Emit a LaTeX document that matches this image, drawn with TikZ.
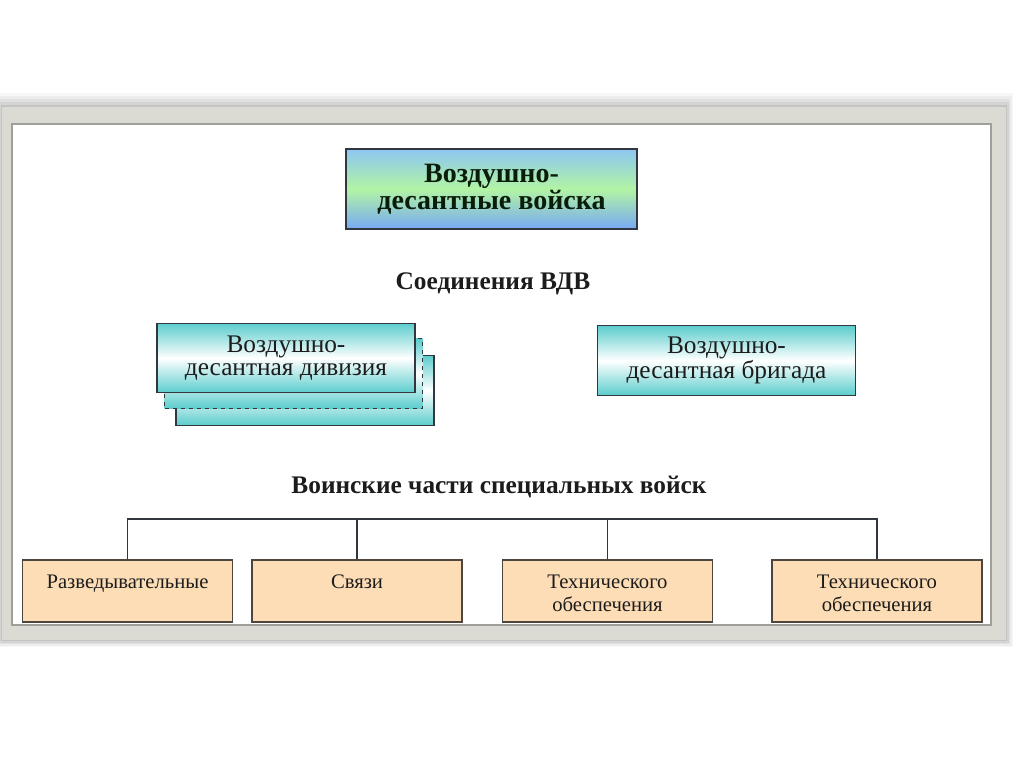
\documentclass[tikz,border=0pt]{standalone}
\usepackage{fontspec}
\setmainfont{Liberation Serif}
\usepackage{xcolor}
\usepackage{tikz}
\usetikzlibrary{positioning}
\definecolor{frame}{HTML}{DCDBD3}
\definecolor{rim}{HTML}{A0A09A}
\definecolor{ink}{HTML}{1C1C1C}
\definecolor{edge}{HTML}{33363F}
\definecolor{sky}{HTML}{8CC6F2}
\definecolor{leaf}{HTML}{B2F4A4}
\definecolor{lagoon}{HTML}{5CCDCD}
\definecolor{peach}{HTML}{FDDDB6}

\begin{document}
\begin{tikzpicture}[
  x=0.75pt, y=-0.75pt,
  corps/.style={draw=edge, line width=1.1pt, inner sep=0pt, minimum width=218.25pt, minimum height=60pt,
    top color=sky, bottom color=sky!85!blue, middle color=leaf, align=center, text=ink!80!green!40!black,
    font=\fontsize{21}{20}\selectfont\bfseries},
  unitbox/.style={draw=edge, line width=0.9pt, inner sep=0pt, minimum width=193.5pt, minimum height=52pt,
    top color=lagoon, bottom color=lagoon, middle color=white, align=center, text=ink,
    font=\fontsize{19}{17.25}\selectfont},
  branch/.style={draw=edge!80!brown, line width=1pt, inner sep=0pt, minimum width=157.5pt, minimum height=46.5pt,
    fill=peach},
  branchtext/.style={align=center, inner sep=0pt, anchor=north, text=ink, font=\fontsize{15.5}{17.25}\selectfont},
  heading/.style={text=ink, font=\fontsize{19}{19}\selectfont\bfseries},
  link/.style={draw=edge, line width=0.9pt}
]
  \useasboundingbox (0,0) rectangle (1024,767);
  % frame with a soft glow
  \foreach \d/\o in {14/0.03,11/0.04,8/0.05,5/0.06,2/0.08}
    \fill[black, opacity=\o] (2-\d/2,107-\d) rectangle (1006+\d/2,640+\d/2);
  \fill[frame] (2,107) rectangle (1006,640);
  \filldraw[fill=white, draw=rim, line width=0.8pt] (12,124) rectangle (991,625);

  % top
  \node[corps] (vdv) at (491.5,189) {Воздушно-\\десантные войска};
  \node[heading] (joint) at (493,284) {Соединения ВДВ};

  % division stack and brigade
  \node[unitbox] (div3) at (305,390.5) {};
  \node[unitbox, dashed] (div2) at (293.5,373.5) {};
  \node[unitbox] (div) at (286,358) {Воздушно-\\десантная дивизия};
  \node[unitbox] (brig) at (726.5,360.5) {Воздушно-\\десантная бригада};

  % special troops
  \node[heading] (special) at (499,487) {Воинские части специальных войск};
  \node[branch] (u1) at (127.5,591) {};
  \node[branch] (u2) at (357,591) {};
  \node[branch] (u3) at (607.5,591) {};
  \node[branch] (u4) at (877,591) {};
  \node[branchtext, below=11.5pt of u1.north] (u1t) {Разведывательные};
  \node[branchtext, below=11.5pt of u2.north] (u2t) {Связи};
  \node[branchtext, below=11.5pt of u3.north] (u3t) {Технического\\обеспечения};
  \node[branchtext, below=11.5pt of u4.north] (u4t) {Технического\\обеспечения};

  \coordinate (bus) at (500,519);
  \draw[link] (u1.north) |- (bus) -| (u4.north);
  \draw[link] (u2.north) -- (u2.north |- bus);
  \draw[link] (u3.north) -- (u3.north |- bus);
\end{tikzpicture}
\end{document}
